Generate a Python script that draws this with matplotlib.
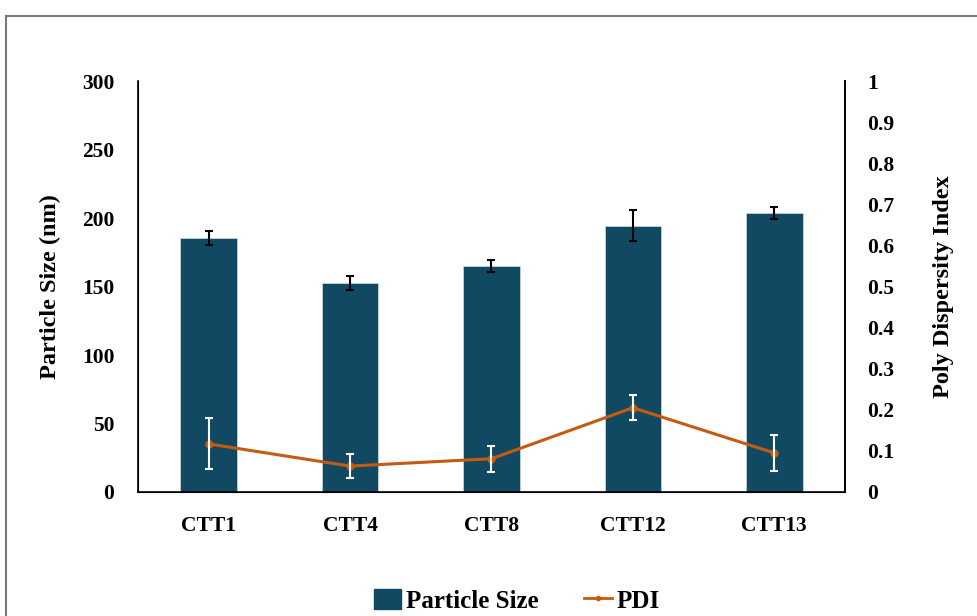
import matplotlib
matplotlib.use("Agg")
import matplotlib.pyplot as plt
import numpy as np
from matplotlib.patches import Rectangle
from matplotlib.lines import Line2D
from matplotlib.patches import Patch

# data
samples = ["CTT1", "CTT4", "CTT8", "CTT12", "CTT13"]
particle_size = [185.5, 152.5, 165.0, 194.5, 203.5]
size_err = [5.0, 5.0, 4.7, 11.0, 4.2]
pdi = [0.117, 0.063, 0.081, 0.205, 0.095]
pdi_err = [0.062, 0.029, 0.032, 0.030, 0.044]

plt.rcParams['font.family'] = ['Liberation Serif', 'DejaVu Serif']
plt.rcParams['font.weight'] = 'bold'

bar_col = "#124962"
line_col = "#c55a11"

fig = plt.figure(figsize=(9.77, 6.16), dpi=100)
ax = fig.add_axes([0.1412, 0.2013, 0.7237, 0.6672])

x = np.arange(len(samples))
ax.bar(x, particle_size, width=0.4, color=bar_col, edgecolor="#cfdde4", linewidth=0.5, zorder=2)
ax.errorbar(x, particle_size, yerr=size_err, fmt="none", ecolor="black", elinewidth=1.5, capsize=3, capthick=1.5, zorder=3)

ax.set_xlim(-0.5, len(samples) - 0.5)
ax.set_ylim(0, 300)
ax.set_yticks(np.arange(0, 301, 50))
ax.set_xticks(x)
ax.set_xticklabels(samples, fontsize=15.5, fontweight='bold')
ax.tick_params(axis='both', length=0, labelsize=15.5)
ax.tick_params(axis='x', pad=17)
ax.tick_params(axis='y', pad=17)
ax.set_ylabel("Particle Size (nm)", fontsize=17.5, fontweight='bold', labelpad=15)
for s in ["top"]:
    ax.spines[s].set_visible(False)
for s in ["left", "bottom", "right"]:
    ax.spines[s].set_linewidth(1.2)

ax2 = ax.twinx()
ax2.plot(x, pdi, color=line_col, lw=2.2, marker="o", ms=5, zorder=4)
ax2.errorbar(x, pdi, yerr=pdi_err, fmt="none", ecolor="white", elinewidth=1.5, capsize=3, capthick=1.5, zorder=5)
ax2.set_ylim(0, 1)
ax2.set_yticks(np.arange(0, 1.01, 0.1))
ax2.set_yticklabels(["0"] + ["%.1f" % v for v in np.arange(0.1, 1.0, 0.1)] + ["1"])
ax2.tick_params(axis='y', length=0, labelsize=15.5, pad=16)
ax2.set_ylabel("Poly Dispersity Index", fontsize=17.5, fontweight='bold', rotation=90, labelpad=28)
ax2.spines["top"].set_visible(False)
ax2.spines["right"].set_linewidth(1.2)

handles = [Patch(facecolor=bar_col, edgecolor=bar_col),
           Line2D([0], [0], color=line_col, lw=2, marker="o", ms=3)]
fig.legend(handles, ["Particle Size", "PDI"], loc="center", bbox_to_anchor=(0.529, 0.025),
           ncol=2, frameon=False, prop={'size': 18, 'weight': 'bold'},
           handlelength=1.1, handleheight=0.9, columnspacing=1.8, handletextpad=0.2)

# outer grey frame of the original picture
fig.patches.append(Rectangle((6 / 977, -0.1), 1.2, 1 - 16 / 616 + 0.1, transform=fig.transFigure,
                             fill=False, edgecolor="#7a7a7a", lw=1.5))

fig.savefig("out.png", dpi=100)
